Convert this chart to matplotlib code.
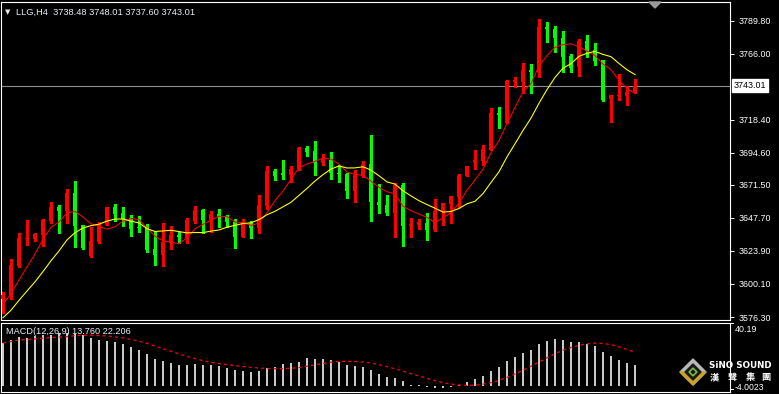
import numpy as np
import pandas as pd
import matplotlib
matplotlib.use("Agg")
from matplotlib import pyplot as plt
from matplotlib.patches import Polygon
from matplotlib.transforms import blended_transform_factory

plt.rcParams['font.family'] = ['Liberation Sans', 'DejaVu Sans']

# LLG,H4 candles (left to right)
opens = [3589.3, 3590.7, 3613.1, 3632.5, 3632.5, 3635.4, 3645.5, 3655.6, 3652.7, 3665.7,
         3642.6, 3620.3, 3630.4, 3642.6, 3655.6, 3651.2, 3647.6, 3641.2, 3641.2, 3625.3,
         3621.0, 3629.6, 3635.4, 3633.2, 3645.5, 3653.4, 3645.5, 3650.5, 3649.1, 3644.8,
         3634.0, 3644.0, 3640.4, 3656.3, 3681.5, 3680.1, 3678.6, 3682.2, 3698.1, 3695.9,
         3687.3, 3689.4, 3680.1, 3679.3, 3667.1, 3677.9, 3686.6, 3659.2, 3657.0, 3651.2,
         3671.4, 3641.9, 3642.6, 3644.0, 3639.0, 3652.0, 3657.7, 3662.8, 3677.9, 3687.3,
         3688.7, 3696.6, 3723.3, 3716.1, 3745.6, 3745.6, 3754.3, 3752.8, 3785.3, 3783.8,
         3777.3, 3764.4, 3756.4, 3775.2, 3768.7, 3761.5, 3733.4, 3735.5, 3735.5, 3738.48]
highs = [3594.3, 3618.1, 3636.8, 3646.2, 3636.6, 3646.9, 3659.2, 3657.0, 3668.5, 3674.3,
         3642.6, 3641.2, 3644.8, 3655.6, 3657.7, 3655.6, 3649.8, 3649.1, 3643.3, 3638.3,
         3644.0, 3641.9, 3637.6, 3647.6, 3656.3, 3654.1, 3652.7, 3654.1, 3649.8, 3646.9,
         3646.9, 3645.5, 3664.2, 3685.1, 3683.0, 3689.4, 3685.1, 3698.8, 3699.5, 3703.1,
         3693.8, 3695.2, 3685.8, 3680.1, 3682.2, 3688.7, 3707.4, 3672.1, 3664.2, 3672.9,
         3672.9, 3647.6, 3646.9, 3651.2, 3661.3, 3658.5, 3663.5, 3679.3, 3685.1, 3696.6,
         3700.2, 3726.9, 3727.6, 3747.1, 3749.2, 3759.3, 3758.6, 3791.0, 3788.9, 3786.0,
         3782.4, 3765.8, 3776.6, 3779.5, 3773.7, 3761.5, 3736.3, 3751.4, 3742.8, 3748.01]
lows = [3579.2, 3589.3, 3612.3, 3628.2, 3631.1, 3627.5, 3644.0, 3636.8, 3644.0, 3626.8,
        3625.3, 3619.5, 3629.6, 3642.6, 3645.5, 3641.9, 3634.7, 3637.6, 3623.1, 3613.8,
        3613.1, 3625.3, 3629.6, 3629.6, 3644.0, 3636.8, 3637.6, 3641.2, 3641.2, 3626.0,
        3634.0, 3633.2, 3636.8, 3654.1, 3675.0, 3675.7, 3673.6, 3682.2, 3692.3, 3678.6,
        3685.8, 3675.7, 3673.6, 3662.1, 3659.2, 3677.2, 3645.5, 3651.2, 3649.8, 3634.0,
        3627.5, 3634.0, 3639.7, 3631.8, 3638.3, 3642.6, 3644.0, 3655.6, 3677.9, 3683.0,
        3685.8, 3696.6, 3712.5, 3716.1, 3742.0, 3737.7, 3737.7, 3749.2, 3774.4, 3767.2,
        3752.8, 3752.8, 3750.0, 3763.6, 3757.9, 3731.9, 3716.8, 3732.7, 3729.1, 3737.60]
closes = [3592.2, 3613.8, 3633.2, 3633.2, 3636.1, 3646.2, 3655.6, 3652.7, 3665.7, 3641.9,
          3626.0, 3631.1, 3643.3, 3655.6, 3650.5, 3646.9, 3639.7, 3640.4, 3624.6, 3621.0,
          3630.4, 3635.4, 3634.0, 3646.2, 3653.4, 3646.2, 3650.5, 3648.4, 3644.8, 3634.0,
          3644.0, 3640.4, 3657.0, 3681.5, 3677.9, 3678.6, 3683.0, 3698.1, 3695.2, 3687.3,
          3690.2, 3680.1, 3679.3, 3667.1, 3678.6, 3686.6, 3659.2, 3657.0, 3651.2, 3671.4,
          3641.9, 3643.3, 3644.8, 3639.0, 3652.7, 3658.5, 3663.5, 3678.6, 3685.1, 3689.4,
          3697.4, 3723.3, 3721.9, 3746.4, 3747.1, 3754.3, 3752.8, 3785.3, 3783.8, 3777.3,
          3763.6, 3755.7, 3775.2, 3768.0, 3760.8, 3732.7, 3736.3, 3736.3, 3738.4, 3743.01]
# closes before the first visible bar (estimated from where the MA lines start)
prior_closes = [3560, 3562, 3566, 3570, 3572, 3578, 3582, 3586, 3590]

# MACD(12,26,9) main values (histogram)
macd_main = [27.9, 29.9, 31.8, 31.2, 32.3, 33.4, 33.4, 34.4, 34.4, 33.8,
             32.9, 31.2, 29.9, 29.0, 28.6, 27.3, 25.3, 23.5, 20.7, 17.4,
             16.4, 14.8, 13.5, 13.5, 14.2, 13.7, 13.5, 12.9, 11.6, 10.2,
             9.6, 8.9, 9.6, 11.6, 12.2, 14.2, 14.8, 15.5, 18.1, 17.4,
             17.4, 16.8, 15.7, 13.5, 12.9, 12.2, 10.2, 7.6, 5.7, 5.0,
             3.1, 0.4, 0.4, -0.9, -1.5, -1.5, -1.0, 0.2, 2.4, 4.4,
             6.3, 9.6, 12.2, 16.1, 18.7, 21.4, 23.3, 27.3, 29.2, 30.5,
             29.9, 28.6, 28.6, 27.3, 25.9, 22.0, 19.4, 16.8, 14.8, 13.76]

price_ticks = [3576.30, 3600.10, 3623.90, 3647.70, 3671.50, 3694.60, 3718.40, 3766.00, 3789.80]
last_price = 3743.01

W, H = 779, 394
fig = plt.figure(figsize=(W / 100, H / 100), dpi=100, facecolor="black")


def px_rect(left, top, right, bottom):
    return [left / W, 1 - bottom / H, (right - left) / W, (bottom - top) / H]


ax = fig.add_axes(px_rect(1, 2, 730, 320), facecolor="black")
ax2 = fig.add_axes(px_rect(1, 322.5, 730, 392), facecolor="black")

# candles: red = up, green = down
x = np.arange(len(closes))
o = np.array(opens)
h = np.array(highs)
l = np.array(lows)
c = np.array(closes)
cols = np.where(c >= o, "#FF0000", "#00FF00")
ax.axhline(last_price, color="#8C8C8C", lw=0.8, zorder=1)
ax.vlines(x, l, h, colors=cols, linewidth=0.8, antialiased=False, zorder=2)
ax.bar(x, np.maximum(np.abs(c - o), 0.8), bottom=np.minimum(o, c), width=0.62,
       color=cols, linewidth=0, antialiased=False, zorder=3)

# moving averages
allc = pd.Series(prior_closes + closes)
ma5 = allc.rolling(5, min_periods=1).mean().values[len(prior_closes):]
ma10 = allc.rolling(10, min_periods=1).mean().values[len(prior_closes):]
ax.plot(x, ma5, color="#FF0000", lw=0.75, zorder=4)
ax.plot(x, ma10, color="#FFFF00", lw=0.8, zorder=4)

ax.set_xlim(-0.25, 90.875)
ax.set_ylim(3574.15, 3803.27)
ax.yaxis.tick_right()
ax.set_yticks(price_ticks)
ax.set_yticklabels([f"{v:.2f}" for v in price_ticks])
ax.tick_params(axis="y", colors="white", labelsize=6.4, length=3, width=0.7, pad=3)
ax.tick_params(axis="x", bottom=False, labelbottom=False)
tr = blended_transform_factory(ax.transAxes, ax.transData)
ax.text(1.0055, last_price, "3743.01", transform=tr, ha="left", va="center", fontsize=6.4,
        color="black", bbox=dict(facecolor="white", edgecolor="white", pad=1.3))

# MACD panel
ax2.bar(x, macd_main, width=0.18, color="#C8C8C8", linewidth=0, antialiased=False)
signal = pd.Series(macd_main).rolling(9, min_periods=1).mean()
ax2.plot(x, signal, color="#FF0000", lw=0.9, linestyle=(0, (2.5, 2.5)))
ax2.set_xlim(-0.25, 90.875)
ax2.set_ylim(-4.12, 41.33)
ax2.set_xticks([])
ax2.set_yticks([])

for a in (ax, ax2):
    for s in a.spines.values():
        s.set_color("white")
        s.set_linewidth(0.8)

# overlay for header text and logo
ov = fig.add_axes([0, 0, 1, 1])
ov.set_xlim(0, W)
ov.set_ylim(H, 0)
ov.axis("off")
ov.patch.set_alpha(0)

ov.text(5, 12, "▼", fontsize=5, color="#E8E8E8", va="center", family="DejaVu Sans")
ov.text(16, 12, "LLG,H4  3738.48 3748.01 3737.60 3743.01", fontsize=6.7,
        color="#E8EEF6", va="center")
ov.text(6, 332, "MACD(12,26,9) 13.760 22.206", fontsize=6.6, color="#E8EEF6", va="center")
ov.add_patch(Polygon([[649, 2], [661, 2], [655, 8]], closed=True, color="#9A9A9A"))

ov.plot([730, 733], [323, 323], color="white", lw=0.7)
ov.plot([730, 733], [389, 389], color="white", lw=0.7)
ov.text(735, 329, "40.19", fontsize=6.4, color="white", va="center")
ov.text(735, 387, "-4.0023", fontsize=6.2, color="white", va="center")

# SINO SOUND logo
cx, cy, r = 693, 372, 13
ov.add_patch(Polygon([[cx, cy - r], [cx + r, cy], [cx, cy + r], [cx - r, cy]], color="#B8B8B8"))
ov.add_patch(Polygon([[cx - r, cy], [cx + r, cy], [cx, cy + r]], color="#C9A227"))
ov.add_patch(Polygon([[cx, cy - 8], [cx + 8, cy], [cx, cy + 8], [cx - 8, cy]], color="#1A1A1A"))
ov.add_patch(Polygon([[cx, cy - 4], [cx + 4, cy], [cx, cy + 4], [cx - 4, cy]], color="#7CC03C"))
ov.add_patch(Polygon([[cx, cy - 1.8], [cx + 1.8, cy], [cx, cy + 1.8], [cx - 1.8, cy]], color="#1A1A1A"))
ov.text(740, 366, "SiNO SOUND", fontsize=6.3, fontweight="bold", color="white",
        ha="center", va="center", family="DejaVu Sans")
for cxx, ch in zip([714, 732, 750, 766], ["漢", "聲", "集", "團"]):
    ov.text(cxx, 377.5, ch, fontsize=6.6, fontweight="bold", color="white",
            ha="center", va="center", family=["Noto Sans CJK TC", "DejaVu Sans"])

fig.savefig("out.png", dpi=100, facecolor="black")
